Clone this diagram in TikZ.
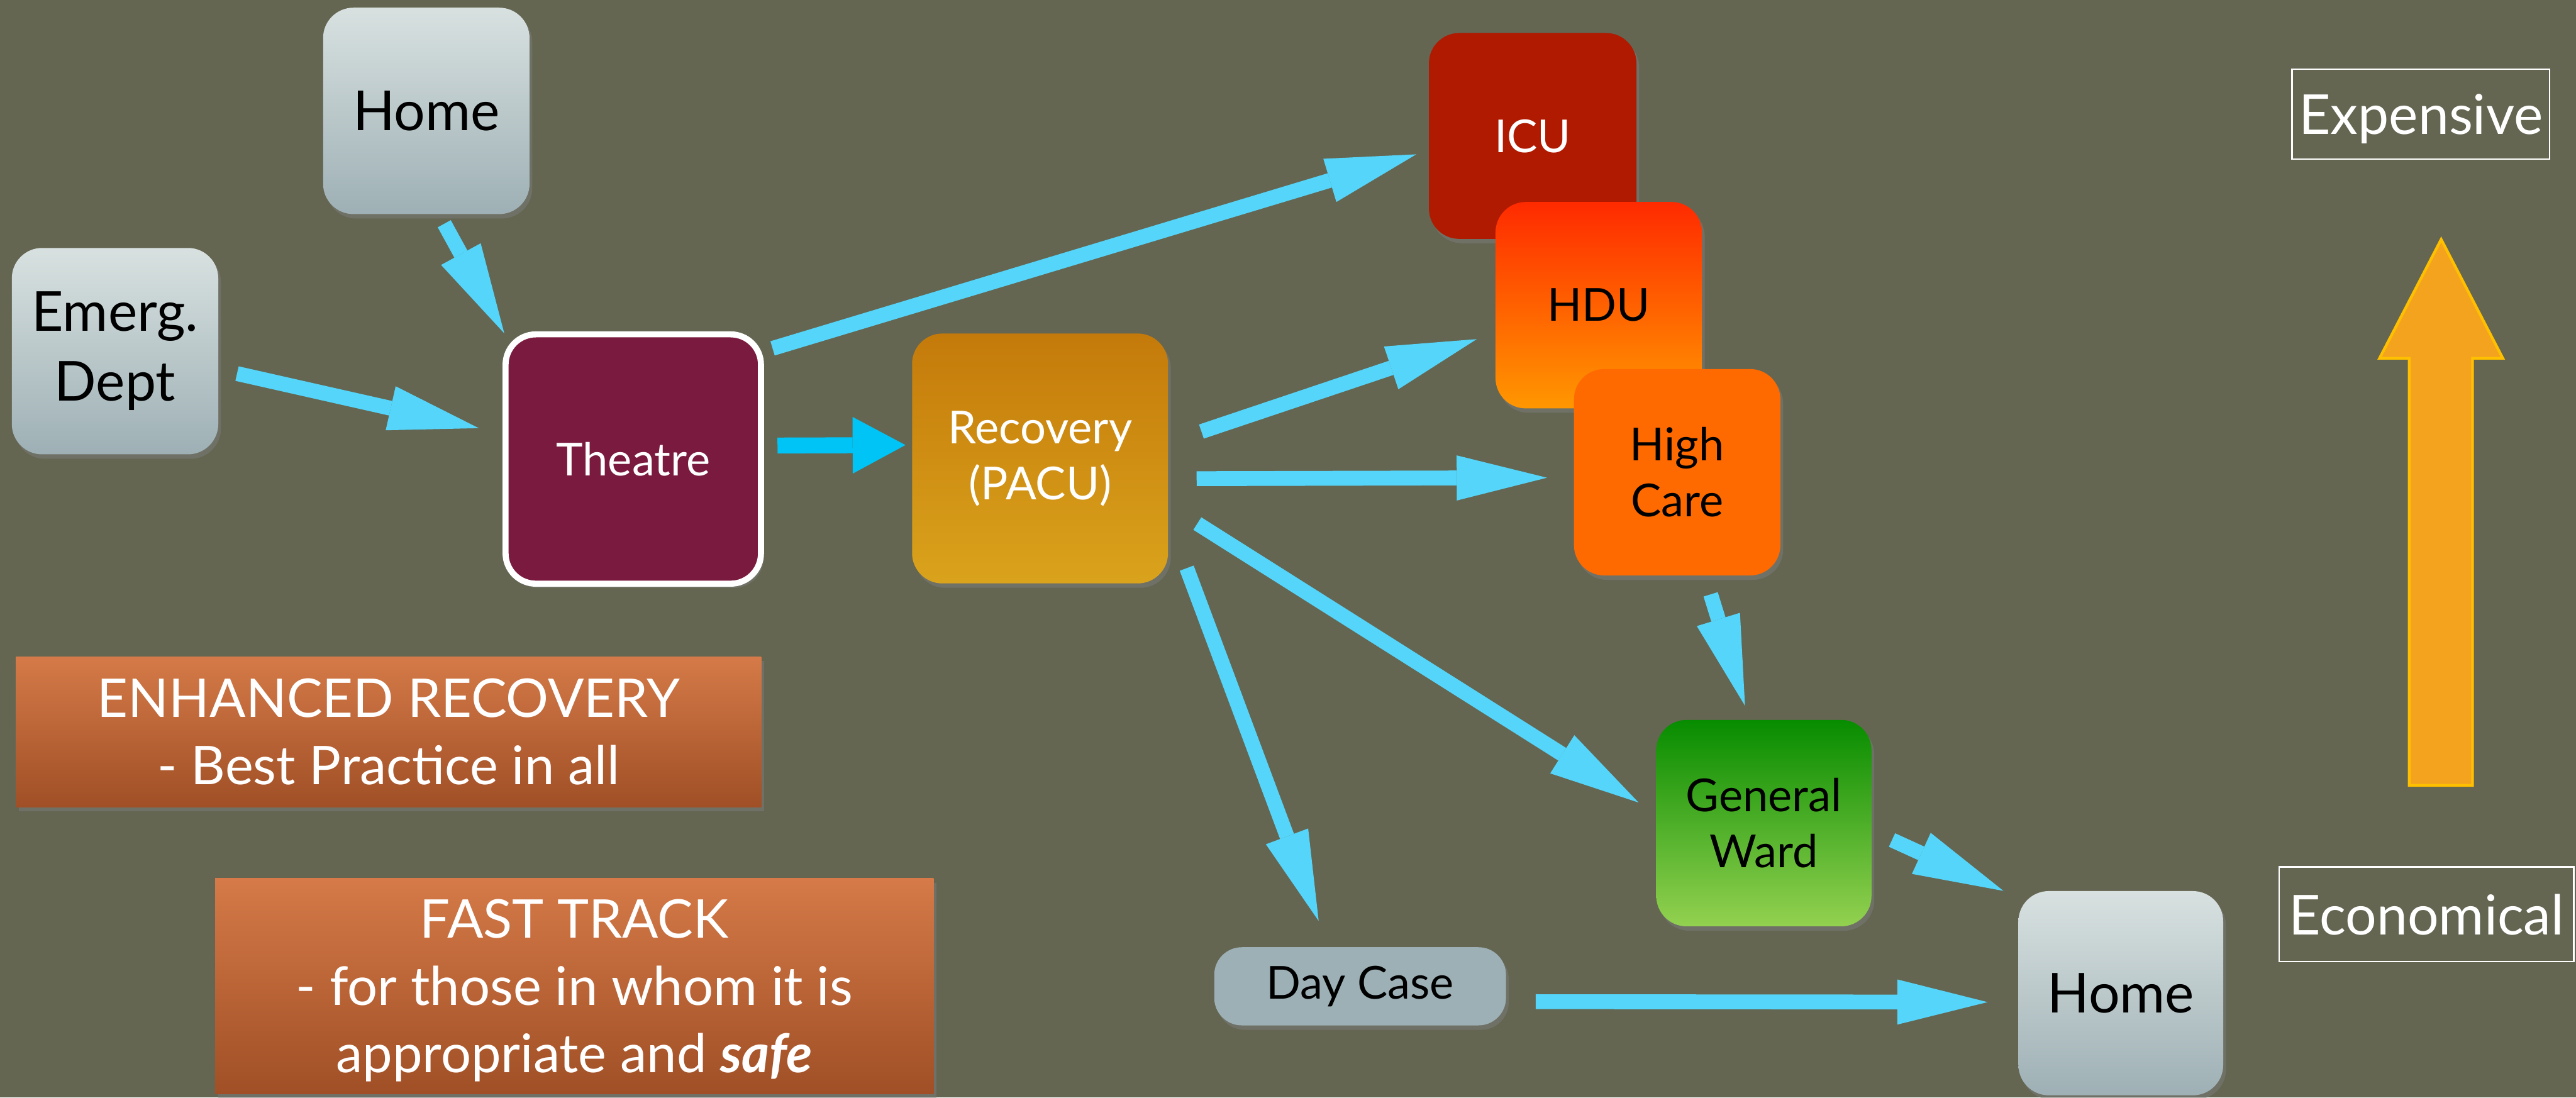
\documentclass[tikz,border=0pt]{standalone}
\usepackage{fontspec}
\setmainfont{Lato}
\usetikzlibrary{arrows.meta,shadows}
\definecolor{bg}{HTML}{646652}
\definecolor{paleTop}{HTML}{D8E1E0}
\definecolor{paleBot}{HTML}{9EB0B5}
\definecolor{theatreC}{HTML}{7A1A3E}
\definecolor{recTop}{HTML}{C47A0A}
\definecolor{recBot}{HTML}{DAA31C}
\definecolor{icuC}{HTML}{B01A00}
\definecolor{hduTop}{HTML}{FF2A00}
\definecolor{hduBot}{HTML}{FF9700}
\definecolor{highC}{HTML}{FF6A00}
\definecolor{wardTop}{HTML}{078C00}
\definecolor{wardBot}{HTML}{93D150}
\definecolor{dayC}{HTML}{9DB0B5}
\definecolor{noteTop}{HTML}{D57A48}
\definecolor{noteBot}{HTML}{A04F26}
\definecolor{flowC}{HTML}{55D5FA}
\definecolor{flowD}{HTML}{00C4F5}
\definecolor{costFill}{HTML}{F4A31F}
\definecolor{costLine}{HTML}{FFC000}
\begin{document}
\begin{tikzpicture}[
  big/.style={font=\fontsize{28.5}{36}\selectfont},
  small/.style={font=\fontsize{23.5}{29}\selectfont},
  shade/.style={drop shadow={shadow xshift=0.5mm,shadow yshift=-0.8mm,opacity=0.45}},
  unit/.style={rounded corners=5.5mm,minimum width=3.75cm,minimum height=3.75cm,inner sep=1mm,outer sep=0pt,align=center,shade},
  pale/.style={unit,big,top color=paleTop,bottom color=paleBot},
  note/.style={outer sep=0pt,align=center,text=white,top color=noteTop,bottom color=noteBot,font=\fontsize{27.6}{34.7}\selectfont,shade},
  cost/.style={draw=white,line width=0.25mm,text=white,outer sep=0pt,text depth=0pt,font=\fontsize{28.5}{34}\selectfont},
  flow/.style={flowC,line width=2.7mm,-{Triangle[length=16.4mm,width=8.2mm,line width=0pt]}},
  fwd/.style={flowD,line width=2.9mm,-{Triangle[length=9.6mm,width=10.3mm,line width=0pt]}},
]
\useasboundingbox (0,0) rectangle (46.8,19.94);
\fill[bg] (0,0) rectangle (46.8,19.94);
\node[pale] (homeA) at (7.745,17.925) {Home};
\node[pale] (emerg) at (2.09,13.56) {Emerg.\\Dept};
\node[unit,small,fill=theatreC,draw=white,line width=1.1mm,text=white,minimum width=4.64cm,minimum height=4.53cm] (theatre) at (11.505,11.6) {Theatre};
\node[unit,small,top color=recTop,bottom color=recBot,text=white,minimum width=4.65cm,minimum height=4.54cm] (recovery) at (18.895,11.61) {Recovery\\(PACU)};
\node[unit,small,fill=icuC,text=white,minimum width=3.77cm,minimum height=3.74cm] (icu) at (27.845,17.47) {ICU};
\node[unit,small,top color=hduTop,bottom color=hduBot] (hdu) at (29.045,14.395) {HDU};
\node[unit,small,fill=highC] (high) at (30.47,11.36) {High\\Care};
\node[unit,small,top color=wardTop,bottom color=wardBot,minimum width=3.91cm] (ward) at (32.045,4.985) {General\\Ward};
\node[unit,small,fill=dayC,rounded corners=5mm,minimum width=5.3cm,minimum height=1.42cm] (daycase) at (24.71,2.02) {Day Case};
\node[pale,minimum width=3.72cm,minimum height=3.71cm] (homeB) at (38.53,1.895) {Home};
\node[note,minimum width=13.54cm,minimum height=2.73cm] (enhanced) at (7.06,6.645) {ENHANCED RECOVERY\\- Best Practice in all};
\node[note,minimum width=13.05cm,minimum height=3.91cm,text depth=0pt] (fast) at (10.435,2.025) {FAST TRACK\\- for those in whom it is\\appropriate and \textbf{\textit{safe}}};
\node[cost,minimum width=4.68cm,minimum height=1.63cm] (pricey) at (43.98,17.865) {Expensive};
\node[cost,minimum width=5.35cm,minimum height=1.72cm] (cheap) at (44.085,3.33) {Economical};
\draw[costLine,fill=costFill,line width=0.5mm] (43.77,5.67) -- (43.77,13.43) -- (43.23,13.43) -- (44.35,15.59) -- (45.47,13.43) -- (44.92,13.43) -- (44.92,5.67) -- cycle;
\draw[flow,shorten <=2mm,shorten >=0.5mm] (homeA.-83) -- (theatre.136);
\draw[flow,shorten <=3.5mm,shorten >=5mm] (emerg.-10) -- (theatre.169);
\draw[fwd,shorten <=3mm,shorten >=1.2mm] (theatre.6) -- (recovery.174);
\draw[flow,shorten <=2.2mm,shorten >=2.4mm] (theatre.40) -- (icu.188);
\draw[flow,shorten <=6.4mm,shorten >=3.6mm] (recovery.7) -- (hdu.195);
\draw[flow,shorten <=5.2mm,shorten >=4.9mm] (recovery.-9) -- (high.183);
\draw[flow,shorten <=6.3mm,shorten >=3.8mm] (recovery.-20) -- (ward.175);
\draw[flow,shorten <=9.7mm,shorten >=5.1mm] (recovery.-25) -- (daycase.129);
\draw[flow,shorten <=3.6mm,shorten >=2.7mm] (high.-75) -- (ward.98);
\draw[flow,shorten <=4.1mm,shorten >=3mm] (ward.-4) -- (homeB.137);
\draw[flow,shorten <=5.4mm,shorten >=5.6mm] (daycase.-6) -- (homeB.185);
\end{tikzpicture}
\end{document}
